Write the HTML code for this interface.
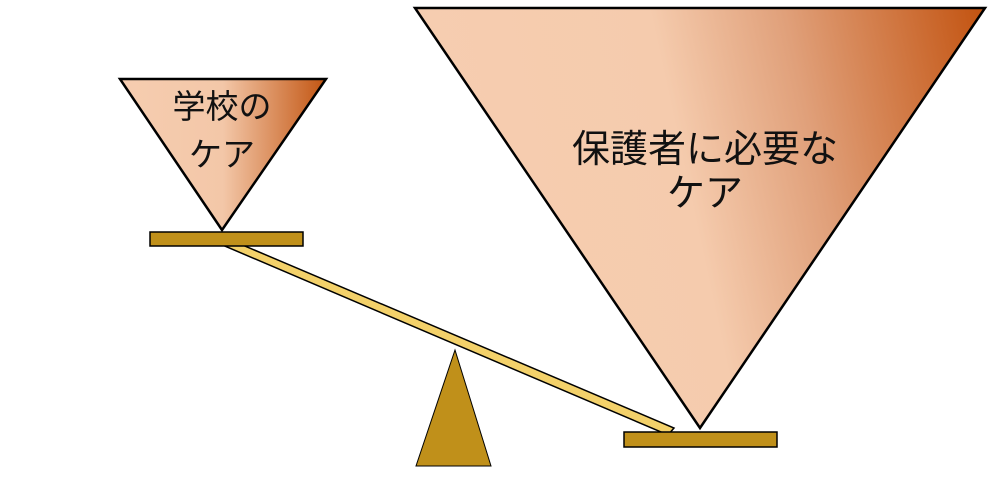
<!DOCTYPE html>
<html><head><meta charset="utf-8"><style>
html,body{margin:0;padding:0;background:#fff;width:1000px;height:479px;overflow:hidden}
</style></head><body>
<svg width="1000" height="479" viewBox="0 0 1000 479" xmlns="http://www.w3.org/2000/svg">
<defs>
<linearGradient id="g1" x1="120" y1="0" x2="326" y2="0" gradientUnits="userSpaceOnUse">
<stop offset="0" stop-color="#f6cdb0"/><stop offset="0.5" stop-color="#f3c7a8"/><stop offset="1" stop-color="#c25512"/></linearGradient>
<linearGradient id="g2" x1="430" y1="120" x2="985" y2="0" gradientUnits="userSpaceOnUse">
<stop offset="0" stop-color="#f6cdb0"/><stop offset="0.42" stop-color="#f5cbad"/><stop offset="0.65" stop-color="#e0a07a"/><stop offset="1" stop-color="#c2520f"/></linearGradient>
</defs>
<polygon points="120,79 326,79 222,230" fill="url(#g1)" stroke="#000" stroke-width="2.5" stroke-linejoin="miter"/>
<polygon points="415,8 985,8 700,428" fill="url(#g2)" stroke="#000" stroke-width="2.5"/>
<polygon points="220,244 226,238 674,428 668,435" fill="#f3d16a" stroke="#000" stroke-width="1.5"/>
<polygon points="455,350 416,466 491,466" fill="#c0901a" stroke="#000" stroke-width="1"/>
<rect x="150" y="232" width="153" height="14" fill="#c0901a" stroke="#000" stroke-width="1.5"/>
<rect x="624" y="432" width="153" height="15" fill="#c0901a" stroke="#000" stroke-width="1.5"/>
<g font-family="'Liberation Sans','Noto Sans CJK JP',sans-serif" fill="#111">
<text x="222" y="118" font-size="33" text-anchor="middle">学校の</text>
<text x="222" y="166" font-size="33" text-anchor="middle">ケア</text>
<text x="705" y="162" font-size="38" text-anchor="middle">保護者に必要な</text>
<text x="705" y="206" font-size="38" text-anchor="middle">ケア</text>
</g>
</svg>
</body></html>
